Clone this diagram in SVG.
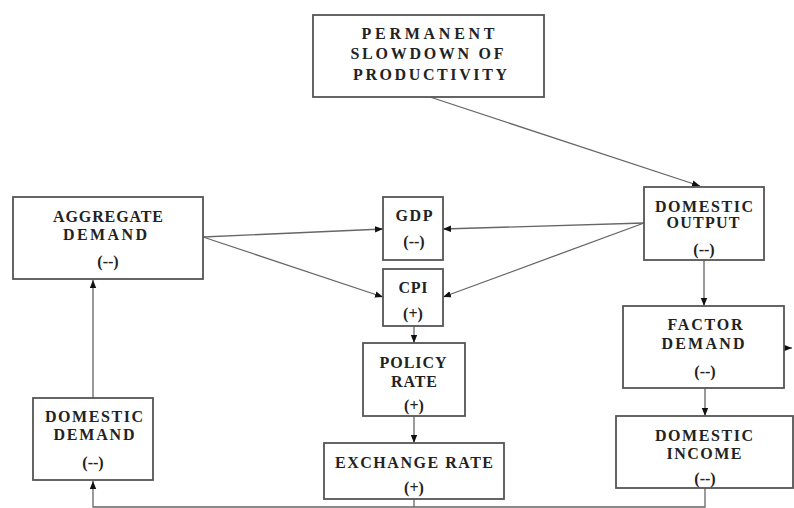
<svg xmlns="http://www.w3.org/2000/svg" width="794" height="508" viewBox="0 0 794 508">
<style>
.box{fill:#fff;stroke:#555;stroke-width:1.8}
.t{font-family:"Liberation Serif","Times New Roman",serif;font-weight:bold;font-size:16px;fill:#222;text-anchor:middle}
.c{fill:none;stroke:#666;stroke-width:1.3}
.v{fill:none;stroke:#999;stroke-width:2}
</style>
<defs>
<marker id="ah" markerUnits="userSpaceOnUse" markerWidth="8" markerHeight="8" viewBox="0 0 8 8" refX="8" refY="4" orient="auto">
<path d="M0,0.8 L8,4 L0,7.2 Z" fill="#111"/>
</marker>
</defs>
<g id="connectors">
<line class="c" x1="430" y1="97" x2="700" y2="186" marker-end="url(#ah)"/>
<line class="c" x1="203" y1="237" x2="383" y2="229" marker-end="url(#ah)"/>
<line class="c" x1="203" y1="237" x2="383" y2="297" marker-end="url(#ah)"/>
<line class="c" x1="644" y1="223" x2="443" y2="229" marker-end="url(#ah)"/>
<line class="c" x1="644" y1="223" x2="443" y2="297" marker-end="url(#ah)"/>
<line class="v" x1="704" y1="260" x2="704" y2="306" marker-end="url(#ah)"/>
<line class="v" x1="705" y1="388" x2="705" y2="416" marker-end="url(#ah)"/>
<line class="c" x1="414" y1="326" x2="414" y2="343" marker-end="url(#ah)"/>
<line class="c" x1="414" y1="416" x2="414" y2="443" marker-end="url(#ah)"/>
<line class="c" x1="414" y1="499" x2="414" y2="507"/>
<polyline class="c" points="705,488 705,507 93,507 93,481" marker-end="url(#ah)"/>
<line class="v" x1="93" y1="398" x2="93" y2="280" marker-end="url(#ah)"/>
<line class="c" x1="784" y1="348" x2="792" y2="348" marker-end="url(#ah)"/>
</g>
<g id="permanent">
<rect class="box" x="313" y="15" width="231" height="82"/>
<text class="t" x="428" y="39" textLength="133">PERMANENT</text>
<text class="t" x="427" y="59" textLength="153">SLOWDOWN OF</text>
<text class="t" x="430" y="80" textLength="154">PRODUCTIVITY</text>
</g>
<g id="aggregate-demand">
<rect class="box" x="13" y="197" width="190" height="82"/>
<text class="t" x="108" y="222" textLength="110">AGGREGATE</text>
<text class="t" x="105" y="240" textLength="84">DEMAND</text>
<text class="t" x="108" y="267">(--)</text>
</g>
<g id="gdp">
<rect class="box" x="383" y="197" width="60" height="63"/>
<text class="t" x="414" y="221" textLength="37">GDP</text>
<text class="t" x="414" y="247">(--)</text>
</g>
<g id="cpi">
<rect class="box" x="383" y="269" width="60" height="57"/>
<text class="t" x="413" y="293" textLength="29">CPI</text>
<text class="t" x="413" y="319">(+)</text>
</g>
<g id="domestic-output">
<rect class="box" x="644" y="187" width="120" height="73"/>
<text class="t" x="704" y="212" textLength="98">DOMESTIC</text>
<text class="t" x="703" y="228" textLength="73">OUTPUT</text>
<text class="t" x="704" y="255">(--)</text>
</g>
<g id="factor-demand">
<rect class="box" x="623" y="306" width="161" height="82"/>
<text class="t" x="705" y="330" textLength="75">FACTOR</text>
<text class="t" x="703" y="349" textLength="83">DEMAND</text>
<text class="t" x="705" y="377">(--)</text>
</g>
<g id="domestic-income">
<rect class="box" x="616" y="416" width="177" height="72"/>
<text class="t" x="704" y="441" textLength="98">DOMESTIC</text>
<text class="t" x="704" y="459" textLength="75">INCOME</text>
<text class="t" x="705" y="484">(--)</text>
</g>
<g id="domestic-demand">
<rect class="box" x="33" y="398" width="120" height="82"/>
<text class="t" x="94" y="422" textLength="98">DOMESTIC</text>
<text class="t" x="94" y="440" textLength="81">DEMAND</text>
<text class="t" x="93" y="468">(--)</text>
</g>
<g id="policy-rate">
<rect class="box" x="363" y="343" width="102" height="73"/>
<text class="t" x="413" y="368" textLength="67">POLICY</text>
<text class="t" x="414" y="387" textLength="46">RATE</text>
<text class="t" x="414" y="411">(+)</text>
</g>
<g id="exchange-rate">
<rect class="box" x="324" y="443" width="180" height="56"/>
<text class="t" x="414" y="468" textLength="158">EXCHANGE RATE</text>
<text class="t" x="414" y="493">(+)</text>
</g>
</svg>
